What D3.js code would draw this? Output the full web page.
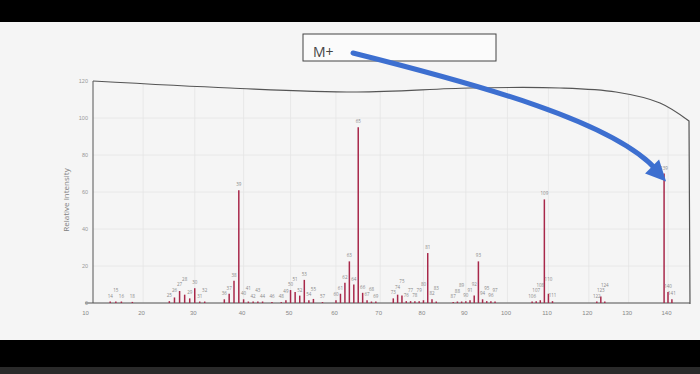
<!DOCTYPE html>
<html lang="en">
	<head>
		<meta charset="utf-8">
		<title>Mass spectrum</title>
		<script type="text/javascript" src="https://cdnjs.cloudflare.com/ajax/libs/d3/7.8.5/d3.min.js"></script>
		<style type="text/css">
			body { margin: 0; background: #000; }
			svg { display: block; font-family: 'Open Sans', 'DejaVu Sans', sans-serif; }
		</style>
	</head>
	<body>
		<script type="text/javascript">
			// peaks (m/z, relative intensity)
			var mz = [14, 15, 16, 18,
				25, 26, 27, 28, 29, 30, 31, 32,
				36, 37, 38, 39, 40, 41, 42, 43, 44,
				46, 48, 49, 50, 51, 52, 53, 54, 55, 57,
				60, 61, 62, 63, 64, 65, 66, 67, 68, 69,
				73, 74, 75, 76, 77, 78, 79, 80, 81, 82, 83,
				87, 88, 89, 90, 91, 92, 93, 94, 95, 96, 97,
				106, 107, 108, 109, 110, 111,
				122, 123, 124,
				139, 140, 141];
			var intensity = [0.8, 0.8, 0.8, 0.6,
				1, 3, 6.5, 4.5, 2.5, 8, 0.8, 0.8,
				2, 5, 12, 61, 2, 0.8, 0.8, 0.8, 0.8,
				0.6, 0.5, 1.5, 7, 6, 4, 12.5, 1.5, 2.2, 0.5,
				1.5, 5, 11, 22.5, 10, 95, 5.5, 1.5, 0.8, 0.8,
				2.5, 4.5, 4, 1, 1, 1, 1, 1.5, 27, 2, 0.8,
				0.5, 0.8, 0.8, 1, 1.5, 4, 22.5, 2, 1, 1, 0.8,
				0.8, 1, 1.5, 56, 5, 1,
				0.8, 3.5, 0.8,
				70, 6, 2];
			var xTicks = [10, 20, 30, 40, 50, 60, 70, 80, 90, 100, 110, 120, 130, 140];
			var yTicks = [0, 20, 40, 60, 80, 100, 120];
			var yTitle = 'Relative Intensity';
			var note = 'M+';
			var markedPeak = 139;

			var w = 700;
			var h = 374;

			var svg = d3.select('body').append('svg').attr('width', w).attr('height', h);

			// paper + black bars of the photo
			svg.append('rect').attr('x', 0).attr('y', 22).attr('width', w).attr('height', 318).attr('fill', '#f5f5f5');
			svg.append('rect').attr('x', 0).attr('y', 367).attr('width', w).attr('height', 7).attr('fill', '#2a2a2a');

			// the page is photographed at an angle, so m/z spacing shrinks to the right
			var xScale = d3.scalePow().exponent(0.84).domain([10, 140]).range([87, 668]);
			var yScale = d3.scaleLinear().domain([0, 120]).range([303, 81]);

			// curved frame of the plot
			var frameTop = [[93, 81], [230, 88], [357, 92], [470, 88], [560, 88], [616, 92], [660, 103], [689, 121]];
			var frameLine = d3.line().curve(d3.curveCatmullRom);
			var framePath = frameLine(frameTop) + 'L690,304L93,304Z';

			svg.append('clipPath').attr('id', 'plotClip')
				.append('path').attr('d', framePath);

			var grid = svg.append('g').attr('clip-path', 'url(#plotClip)');
			grid.selectAll('line.vgrid')
				.data(xTicks)
				.enter()
				.append('line')
				.attr('class', 'vgrid')
				.attr('x1', function(d) { return xScale(d); })
				.attr('x2', function(d) { return xScale(d); })
				.attr('y1', yScale(0))
				.attr('y2', yScale(120))
				.attr('stroke', '#e4e4e4')
				.attr('stroke-width', 0.8);
			grid.selectAll('line.hgrid')
				.data(yTicks)
				.enter()
				.append('line')
				.attr('class', 'hgrid')
				.attr('x1', 93)
				.attr('x2', 690)
				.attr('y1', function(d) { return yScale(d); })
				.attr('y2', function(d) { return yScale(d); })
				.attr('stroke', '#e4e4e4')
				.attr('stroke-width', 0.8);

			svg.append('path')
				.attr('d', frameLine(frameTop) + 'L690,304')
				.attr('fill', 'none')
				.attr('stroke', '#555')
				.attr('stroke-width', 1.2);
			svg.append('line')
				.attr('x1', 93).attr('x2', 93)
				.attr('y1', 81).attr('y2', yScale(0))
				.attr('stroke', '#555').attr('stroke-width', 1);
			svg.append('line')
				.attr('x1', 85).attr('x2', 690)
				.attr('y1', yScale(0)).attr('y2', yScale(0))
				.attr('stroke', '#555').attr('stroke-width', 1.2);

			// axes
			var xAxis = d3.axisBottom(xScale).tickValues(xTicks).tickSize(0).tickPadding(8);
			var gx = svg.append('g')
				.attr('transform', 'translate(0,' + yScale(0) + ')')
				.call(xAxis);
			gx.select('.domain').remove();
			gx.selectAll('text').attr('fill', '#888').attr('font-size', 6).attr('dx', -2);

			var yAxis = d3.axisLeft(yScale).tickValues(yTicks).tickSize(0).tickPadding(5);
			var gy = svg.append('g')
				.attr('transform', 'translate(93,0)')
				.call(yAxis);
			gy.select('.domain').remove();
			gy.selectAll('text').attr('fill', '#999').attr('font-size', 5.5);

			svg.append('text')
				.attr('transform', 'translate(69,200) rotate(-90)')
				.attr('text-anchor', 'middle')
				.attr('fill', '#808080')
				.attr('font-size', 8)
				.text(yTitle);

			// peaks
			var peaks = mz.map(function(m, i) { return {mz: m, val: intensity[i]}; });

			svg.selectAll('line.peak')
				.data(peaks)
				.enter()
				.append('line')
				.attr('class', 'peak')
				.attr('x1', function(d) { return xScale(d.mz); })
				.attr('x2', function(d) { return xScale(d.mz); })
				.attr('y1', yScale(0))
				.attr('y2', function(d) { return yScale(d.val); })
				.attr('stroke', '#a8284a')
				.attr('stroke-width', 1.5);

			// stack crowded labels upwards so they do not run into each other
			var fs = 4.5;
			var placed = [];
			peaks.forEach(function(d) {
				var half = String(d.mz).length * fs * 0.3 + 0.3;
				var lx = xScale(d.mz);
				var ly = yScale(d.val) - 4;
				var moved = true;
				while (moved) {
					moved = false;
					placed.forEach(function(q) {
						if (Math.abs(q.x - lx) < q.half + half && Math.abs(q.y - ly) < fs + 0.5) {
							ly = q.y - fs - 1;
							moved = true;
						}
					});
				}
				d.lx = lx;
				d.ly = ly;
				placed.push({x: lx, y: ly, half: half});
			});

			svg.selectAll('text.plabel')
				.data(peaks)
				.enter()
				.append('text')
				.attr('class', 'plabel')
				.attr('x', function(d) { return d.lx; })
				.attr('y', function(d) { return d.ly; })
				.attr('text-anchor', 'middle')
				.attr('fill', '#888')
				.attr('font-size', fs)
				.text(function(d) { return d.mz; });

			// M+ note with the arrow to the molecular ion
			svg.append('rect')
				.attr('x', 303).attr('y', 34)
				.attr('width', 193).attr('height', 27)
				.attr('fill', '#fbfbfb')
				.attr('stroke', '#444')
				.attr('stroke-width', 1);
			svg.append('text')
				.attr('x', 313).attr('y', 57)
				.attr('fill', '#444')
				.attr('font-size', 14)
				.text(note);

			var mVal = intensity[mz.indexOf(markedPeak)];
			var tip = [xScale(markedPeak) + 2, yScale(mVal) + 8];
			var p = d3.path();
			p.moveTo(353, 53);
			p.bezierCurveTo(480, 85, 615, 122, tip[0] - 9, tip[1] - 11);
			svg.append('path')
				.attr('d', p.toString())
				.attr('fill', 'none')
				.attr('stroke', '#3d6fd0')
				.attr('stroke-width', 5)
				.attr('stroke-linecap', 'round');
			svg.append('path')
				.attr('d', 'M' + tip[0] + ',' + tip[1] + 'L' + (tip[0] - 21) + ',' + (tip[1] - 8) + 'L' + (tip[0] - 7) + ',' + (tip[1] - 22) + 'Z')
				.attr('fill', '#3d6fd0');
		</script>
	</body>
</html>
